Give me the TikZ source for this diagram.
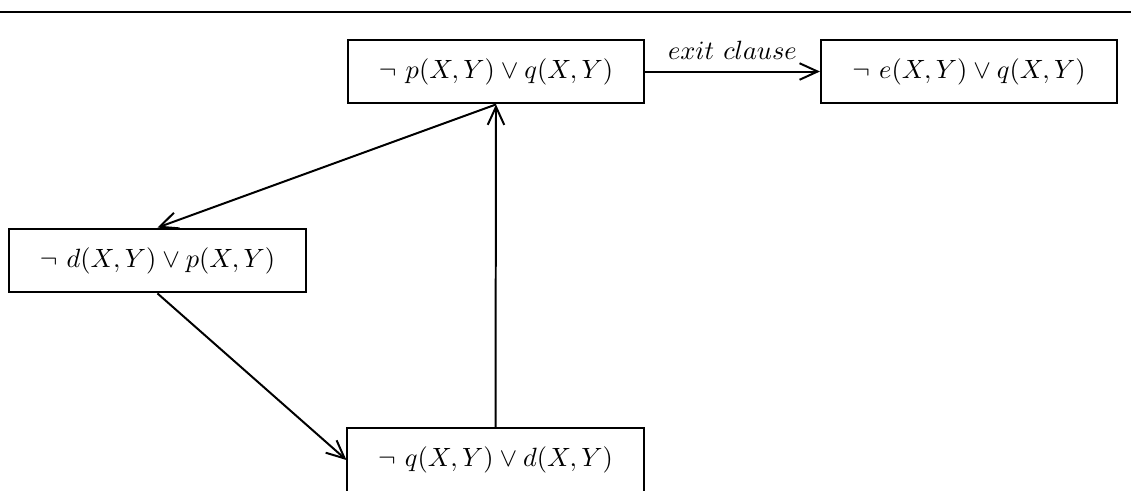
\documentclass[tikz,border=0pt]{standalone}
\usetikzlibrary{arrows.meta}
\begin{document}
\begin{tikzpicture}[x=0.0133cm, y=-0.0133cm, line width=0.75pt,
  font=\fontsize{10.4}{12}\selectfont,
  clausebox/.style={draw, minimum width=3.94cm, minimum height=0.85cm, inner sep=0pt},
  >={Straight Barb[length=2.4mm, width=2.2mm]}]
  \useasboundingbox (0,0) rectangle (1131,490);
  \draw[line width=1pt] (0,12) -- (1131,12);
  \node[clausebox] (pq) at (496,71.5) {$\neg\ p(X,Y)\vee q(X,Y)$};
  \node[clausebox] (eq) at (969,71.5) {$\neg\ e(X,Y)\vee q(X,Y)$};
  \node[clausebox] (dp) at (157.5,260.5) {$\neg\ d(X,Y)\vee p(X,Y)$};
  \node[clausebox] (qd) at (495.5,460) {$\neg\ q(X,Y)\vee d(X,Y)$};
  \draw[->] (pq) -- node[above=1pt] {$exit\ clause$} (eq);
  \draw[->] (pq.south) -- (dp.north);
  \draw[->] (dp.south) -- (qd.west);
  \draw[->] (qd.north) -- (pq.south);
\end{tikzpicture}
\end{document}
